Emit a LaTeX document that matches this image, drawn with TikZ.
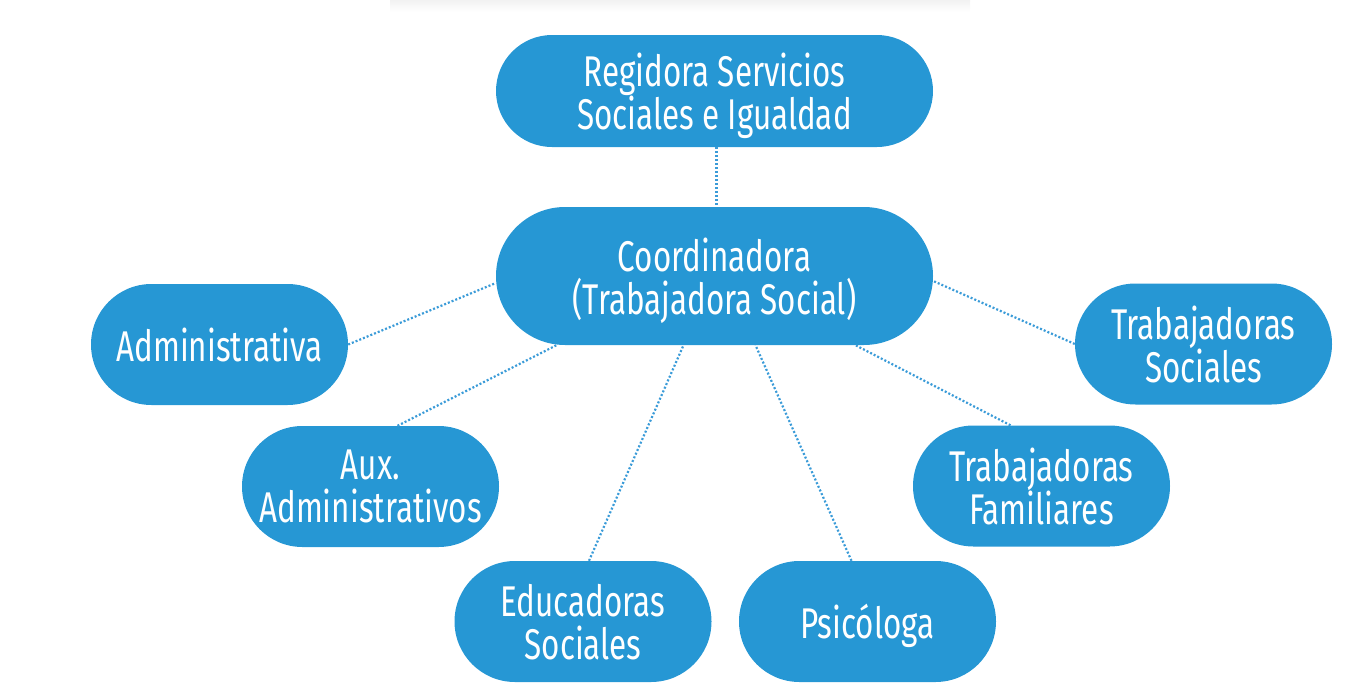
\documentclass[tikz,border=0pt]{standalone}
\usepackage{fontspec}
\setmainfont[FakeStretch=0.73]{Fira Sans}
\usetikzlibrary{shapes.misc}
\definecolor{cajaazul}{HTML}{2697D4}
\definecolor{lineaazul}{HTML}{3A9BD8}

\begin{document}
\begin{tikzpicture}[x=1pt,y=-1pt,
	caja/.style={rounded rectangle, fill=cajaazul, text=white, inner sep=0pt, align=center, text depth=0pt,
		font=\fontsize{43}{43}\selectfont, minimum width=257pt, minimum height=121pt},
	grande/.style={caja, minimum width=437pt},
	enlace/.style={draw=lineaazul, line width=2.2pt, dash pattern=on 2pt off 2pt}]
	\useasboundingbox (0,0) rectangle (1361,691);
	\shade[top color=black!5, bottom color=white] (390,0) rectangle (970,12);
	\node (Reg)	at ( 714.5,  91.0)	[grande, minimum height=112pt]	{Regidora Servicios\\Sociales e Igualdad};
	\node (Coord)	at ( 714.5, 276.0)	[grande, minimum height=138pt]	{Coordinadora\\(Trabajadora Social)};
	\node (Adm)	at ( 219.5, 344.5)	[caja]	{Administrativa};
	\node (Aux)	at ( 370.5, 486.5)	[caja]	{Aux.\\Administrativos};
	\node (Edu)	at ( 583.0, 621.5)	[caja]	{Educadoras\\Sociales};
	\node (Psi)	at ( 867.5, 621.5)	[caja]	{Psicóloga};
	\node (TF)	at (1041.5, 486.0)	[caja]	{Trabajadoras\\Familiares};
	\node (TS)	at (1203.5, 344.0)	[caja]	{Trabajadoras\\Sociales};
	\draw[enlace] ([xshift=2pt]Reg.south) -- ([xshift=2pt]Coord.north);
	\draw[enlace] (Adm.east) -- ([yshift=-7pt]Coord.west);
	\draw[enlace] ([xshift=27pt]Aux.north) -- ([xshift=-158pt]Coord.south);
	\draw[enlace] ([xshift=6pt]Edu.north) -- ([xshift=-31pt]Coord.south);
	\draw[enlace] ([xshift=-16pt]Psi.north) -- ([xshift=41pt]Coord.south);
	\draw[enlace] ([xshift=-31pt]TF.north) -- ([xshift=141pt]Coord.south);
	\draw[enlace] (TS.west) -- ([yshift=-5pt]Coord.east);
\end{tikzpicture}
\end{document}
